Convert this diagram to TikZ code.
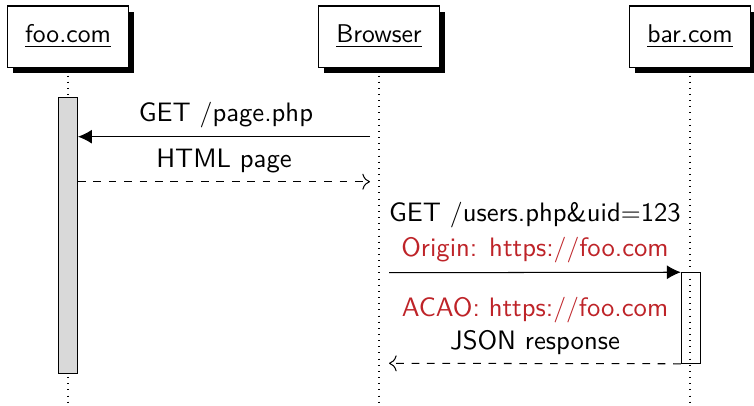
\documentclass[tikz,border=0pt]{standalone}
\usepackage{tikz}
\usetikzlibrary{shadows,arrows.meta}
\definecolor{hdrred}{RGB}{190,35,40}
\tikzstyle{inst} = [draw, fill=white, font=\sffamily, inner sep=0pt, minimum width=47.2pt, minimum height=23.8pt, general shadow={fill=black, shadow xshift=2.3pt, shadow yshift=-2.3pt}]
\tikzstyle{act} = [draw, inner sep=0pt, minimum width=7.4pt]
\tikzstyle{life} = [dotted]
\tikzstyle{call} = [-{Latex[length=5.4pt,width=5.4pt]}]
\tikzstyle{reply} = [dashed, -{To[scale=1.2]}]
\tikzstyle{msg} = [font=\fontsize{10.4}{12}\selectfont\sffamily, anchor=base, inner sep=0pt]
\begin{document}
\begin{tikzpicture}[x=0.39pt, y=-0.39pt]
  \useasboundingbox (0,0) rectangle (754,405);
  % Instances
  \node[inst] (foo) at (68,36.5) {\underline{foo.com}};
  \node[inst] (browser) at (379,36.5) {\underline{Browser}};
  \node[inst] (bar) at (690,36.5) {\underline{bar.com}};
  % Lifelines
  \coordinate (foo end) at (68,402);
  \coordinate (browser end) at (379,402);
  \coordinate (bar end) at (690,402);
  \draw[life] (foo.south) ++(0,8) -- (foo end);
  \draw[life] (browser.south) ++(0,8) -- (browser end);
  \draw[life] (bar.south) ++(0,8) -- (bar end);
  % Activations
  \node[act, fill=black!15, minimum height=108pt] (fooact) at (68,235.5) {};
  \node[act, minimum height=35.3pt] (baract) at (690.8,318) {};
  % page request
  \coordinate (b1) at (370,136.7);
  \coordinate (b2) at (370,181.7);
  \draw[call] (b1) -- (fooact.east |- b1);
  \node[msg] (get page) at (226,121.7) {GET $/$page.php};
  \draw[reply] (fooact.east |- b2) -- (b2);
  \node[msg] (html page) at (224,167) {HTML page};
  % cross-origin request
  \coordinate (b3) at (389,272.7);
  \coordinate (b4) at (389,363.3);
  \draw[call] (b3) -- (baract.north west);
  \node[msg] (get users) at (535,221.7) {GET $/$users.php\&uid$=$123};
  \node[msg, text=hdrred] (origin) at (535,256.7) {Origin: https:$//$foo.com};
  \draw[reply] (baract.south west) -- (b4);
  \node[msg, text=hdrred] (acao) at (535,316) {ACAO: https:$//$foo.com};
  \node[msg] (json) at (535,349.3) {JSON response};
\end{tikzpicture}
\end{document}
